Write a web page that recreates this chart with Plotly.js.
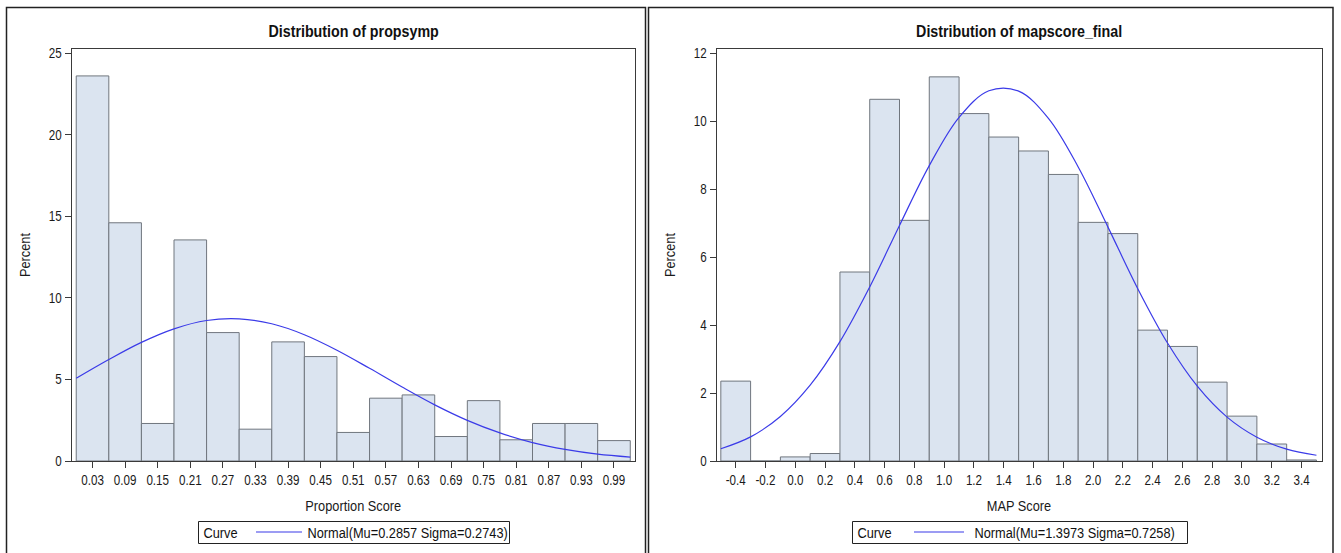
<!DOCTYPE html>
<html><head><meta charset="utf-8">
<script src="https://cdn.plot.ly/plotly-3.0.1.min.js"></script>
<style>html,body{margin:0;padding:0;background:#fff;} #chart{width:1341px;height:553px;}</style>
</head><body><div id="chart"></div>
<script>
// ---------- data ----------
const propBinCenters = [0.03,0.09,0.15,0.21,0.27,0.33,0.39,0.45,0.51,0.57,0.63,0.69,0.75,0.81,0.87,0.93,0.99];
const propTickLabels = ['0.03','0.09','0.15','0.21','0.27','0.33','0.39','0.45','0.51','0.57','0.63','0.69','0.75','0.81','0.87','0.93','0.99'];
const propPercent = [23.6,14.6,2.3,13.55,7.87,1.95,7.3,6.4,1.75,3.85,4.05,1.5,3.7,1.3,2.3,2.3,1.25];
const propCurveX = [0,0.06,0.12,0.18,0.24,0.30,0.36,0.42,0.48,0.54,0.60,0.66,0.72,0.78,0.84,0.90,0.96,1.02];
const propCurveY = [5.07,6.22,7.27,8.10,8.61,8.71,8.41,7.74,6.79,5.68,4.53,3.44,2.49,1.72,1.13,0.71,0.42,0.24];
const propYTicks = [0,5,10,15,20,25];
const propLegend = 'Normal(Mu=0.2857 Sigma=0.2743)';

const mapBinCenters = [-0.4,-0.2,0.0,0.2,0.4,0.6,0.8,1.0,1.2,1.4,1.6,1.8,2.0,2.2,2.4,2.6,2.8,3.0,3.2,3.4];
const mapTickLabels = ['-0.4','-0.2','0.0','0.2','0.4','0.6','0.8','1.0','1.2','1.4','1.6','1.8','2.0','2.2','2.4','2.6','2.8','3.0','3.2','3.4'];
const mapPercent = [2.35,0,0.12,0.22,5.56,10.64,7.08,11.3,10.22,9.53,9.12,8.43,7.02,6.69,3.85,3.37,2.32,1.32,0.5,0.03];
const mapCurveX = [-0.5,-0.3,-0.1,0.1,0.3,0.5,0.7,0.9,1.1,1.3,1.5,1.7,1.9,2.1,2.3,2.5,2.7,2.9,3.1,3.3,3.5];
const mapCurveY = [0.36,0.71,1.31,2.23,3.51,5.12,6.93,8.69,10.11,10.89,10.88,10.08,8.65,6.88,5.07,3.47,2.20,1.29,0.70,0.35,0.17];
const mapYTicks = [0,2,4,6,8,10,12];
const mapLegend = 'Normal(Mu=1.3973 Sigma=0.7258)';

// ---------- layout helpers ----------
const W = 1341, H = 553;
const px = v => v / W;
const py = v => 1 - v / H;
const FONT = "'Liberation Sans',Arial,sans-serif";
const barFill = '#dbe4f0', barLine = '#70767e', curveCol = '#3b3be8', frameCol = '#3a3a3a';
const TICK = 14, LAB = 15.4, TITLE = 17.2, CONDENSE = 0.83;

function barTrace(x, y, w, xa, ya) {
  return {type:'bar', x:x, y:y, width:w, xaxis:xa, yaxis:ya, showlegend:false, hoverinfo:'skip',
    marker:{color:barFill, line:{color:barLine, width:1}}};
}
function curveTrace(x, y, xa, ya) {
  return {type:'scatter', mode:'lines', x:x, y:y, xaxis:xa, yaxis:ya, showlegend:false, hoverinfo:'skip',
    line:{color:curveCol, width:1.2, shape:'spline', smoothing:1}};
}
const data = [
  barTrace(propBinCenters, propPercent, propBinCenters[1]-propBinCenters[0], 'x', 'y'),
  curveTrace(propCurveX, propCurveY, 'x', 'y'),
  barTrace(mapBinCenters, mapPercent, mapBinCenters[1]-mapBinCenters[0], 'x2', 'y2'),
  curveTrace(mapCurveX, mapCurveY, 'x2', 'y2')
];

function xAxis(domain, range, vals, text, title, anchor) {
  return {domain:domain, range:range, anchor:anchor, tickmode:'array', tickvals:vals, ticktext:text,
    ticks:'outside', ticklen:6, tickwidth:1, tickcolor:frameCol, showline:true, linecolor:frameCol, linewidth:1,
    mirror:true, showgrid:false, zeroline:false, fixedrange:true,
    tickfont:{family:FONT, size:TICK, color:'#1a1a1a'},
    title:{text:title, standoff:13, font:{family:FONT, size:LAB, color:'#1a1a1a'}}};
}
function yAxis(domain, range, vals, anchor) {
  return {domain:domain, range:range, anchor:anchor, tickmode:'array', tickvals:vals,
    ticks:'outside', ticklen:6, tickwidth:1, tickcolor:frameCol, showline:true, linecolor:frameCol, linewidth:1,
    mirror:true, showgrid:false, zeroline:false, fixedrange:true,
    tickfont:{family:FONT, size:TICK, color:'#1a1a1a'},
    title:{text:'Percent', standoff:11, font:{family:FONT, size:LAB, color:'#1a1a1a'}}};
}
const yDom = [1 - 461/H, 1 - 49/H];

function ann(text, x, y, size, weight) {
  return {text:text, xref:'paper', yref:'paper', x:px(x), y:py(y), xanchor:'center', yanchor:'middle',
    showarrow:false, font:{family:FONT, size:size, color:'#111', weight:weight || 'normal'}};
}

const layout = {
  width:W, height:H, margin:{l:0, r:0, t:0, b:0}, paper_bgcolor:'#fff', plot_bgcolor:'#fff',
  bargap:0, barmode:'overlay', showlegend:false,
  font:{family:FONT, color:'#1a1a1a'},
  xaxis: xAxis([px(71.5), px(635)], [-0.0087, 1.0287], propBinCenters, propTickLabels, 'Proportion Score', 'y'),
  yaxis: yAxis(yDom, [0, 25.25], propYTicks, 'x'),
  xaxis2: xAxis([px(716.5), px(1321.5)], [-0.529, 3.534], mapBinCenters, mapTickLabels, 'MAP Score', 'y2'),
  yaxis2: yAxis(yDom, [0, 12.12], mapYTicks, 'x2'),
  annotations: [
    ann('Distribution of propsymp', 353, 31, TITLE, 'bold'),
    ann('Distribution of mapscore_final', 1019, 31, TITLE, 'bold'),
    ann('Curve', 220, 532, LAB),
    ann(propLegend, 407, 532, LAB),
    ann('Curve', 874, 532, LAB),
    ann(mapLegend, 1074, 532, LAB)
  ],
  shapes: [
    // panel borders
    {type:'rect', xref:'paper', yref:'paper', x0:px(6.5), x1:px(645.5), y0:-0.05, y1:py(7.5), line:{color:'#222', width:1.5}},
    {type:'rect', xref:'paper', yref:'paper', x0:px(648.5), x1:px(1333), y0:-0.05, y1:py(7.5), line:{color:'#222', width:1.5}},
    // legend boxes
    {type:'rect', xref:'paper', yref:'paper', x0:px(198.5), x1:px(509.5), y0:py(543.5), y1:py(521.5), line:{color:'#222', width:1}},
    {type:'rect', xref:'paper', yref:'paper', x0:px(852.5), x1:px(1187.5), y0:py(543.5), y1:py(521.5), line:{color:'#222', width:1}},
    // legend line samples
    {type:'line', xref:'paper', yref:'paper', x0:px(256), x1:px(302), y0:py(532), y1:py(532), line:{color:curveCol, width:1.2}},
    {type:'line', xref:'paper', yref:'paper', x0:px(914), x1:px(964), y0:py(532), y1:py(532), line:{color:curveCol, width:1.2}}
  ]
};

Plotly.newPlot('chart', data, layout, {staticPlot:true, displayModeBar:false}).then(gd => {
  // condensed look of the original SAS fonts
  gd.querySelectorAll('svg text').forEach(t => {
    const L = t.getComputedTextLength();
    if (L > 0) {
      t.setAttribute('textLength', (L * CONDENSE).toFixed(2));
      t.setAttribute('lengthAdjust', 'spacingAndGlyphs');
    }
  });
});
</script></body></html>
